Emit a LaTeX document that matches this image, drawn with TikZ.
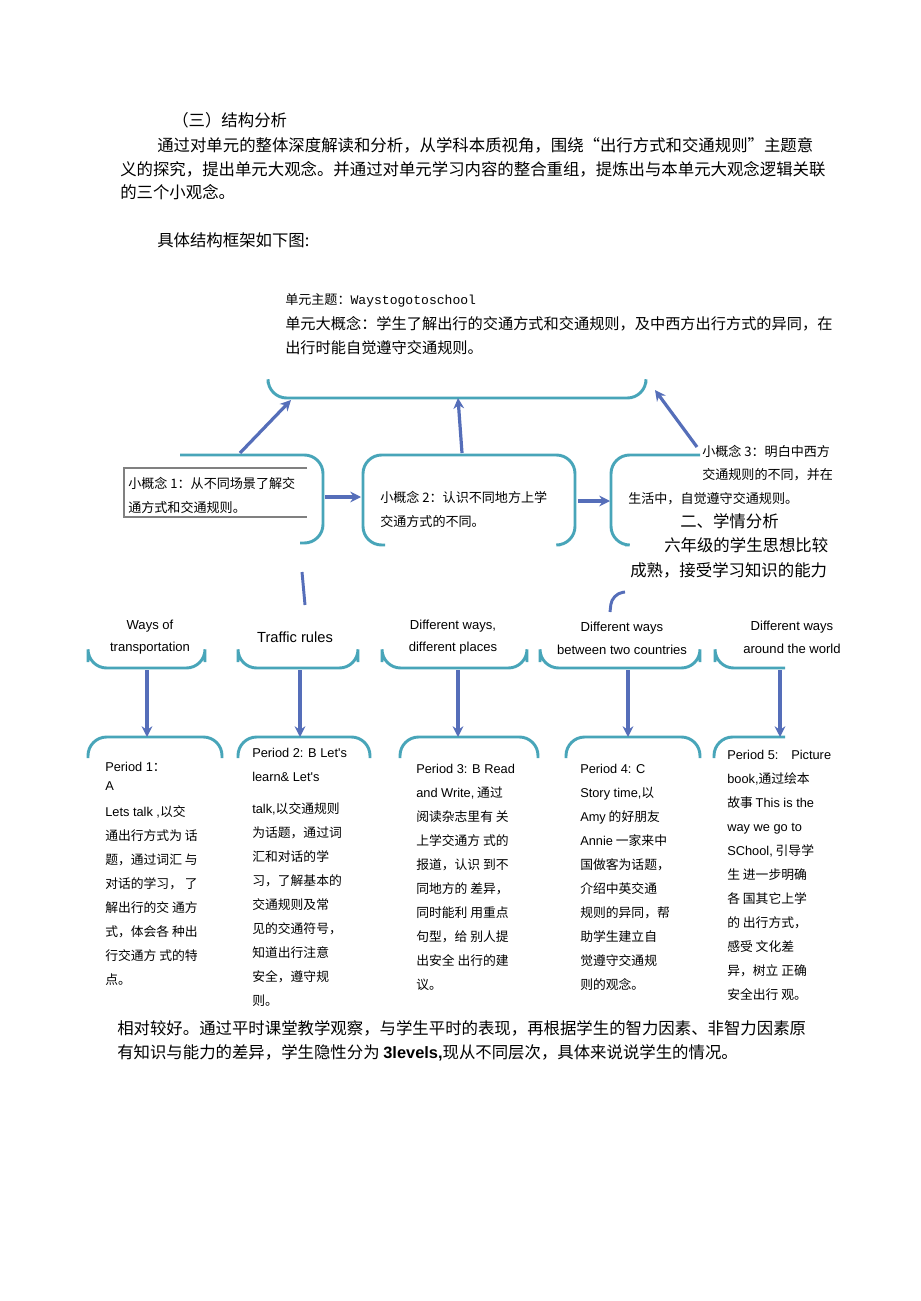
\documentclass[tikz,border=0pt]{standalone}
\usepackage{fontspec}
\setmainfont{Noto Sans CJK SC}
\newfontfamily\monof{Liberation Mono}
\newfontfamily\lat{Liberation Sans}
\usetikzlibrary{arrows.meta}
\definecolor{teal1}{RGB}{72,165,185}
\definecolor{arrb}{RGB}{85,110,185}
\begin{document}
\begin{tikzpicture}[x=0.75pt,y=-0.75pt,
  edge/.style={teal1,line width=2.2pt,rounded corners=14},
  arr/.style={arrb,line width=2.4pt,-{Stealth[length=8pt,width=8pt]}},
  body/.style={anchor=west,inner sep=0,font=\fontsize{12.3}{14}\selectfont},
  small/.style={anchor=west,inner sep=0,font=\fontsize{9.8}{12}\selectfont},
  col/.style={anchor=north west,inner sep=0,align=left,font=\fontsize{9.6}{18}\selectfont},
  head/.style={anchor=center,inner sep=0,align=center,font=\lat\fontsize{9.8}{17}\selectfont}]
\useasboundingbox[fill=white] (0,0) rectangle (920,1301);
% header text
\node[body] (h1) at (172,120) {（三）结构分析};
\node[body] (h2) at (157,145) {通过对单元的整体深度解读和分析，从学科本质视角，围绕“出行方式和交通规则”主题意};
\node[body] (h3) at (120,169) {义的探究，提出单元大观念。并通过对单元学习内容的整合重组，提炼出与本单元大观念逻辑关联};
\node[body] (h4) at (120,192) {的三个小观念。};
\node[body] (h5) at (157,240) {具体结构框架如下图:};
\node[small] (t1) at (285,300) {单元主题：{\monof Waystogotoschool}};
\node[body,font=\fontsize{11.4}{14}\selectfont] (t2) at (285,324) {单元大概念：学生了解出行的交通方式和交通规则，及中西方出行方式的异同，在};
\node[body,font=\fontsize{11.4}{14}\selectfont] (t3) at (285,348) {出行时能自觉遵守交通规则。};
% top box fragment
\draw[edge] (268,383) -- (268,398) -- (646,398) -- (646,383);
\coordinate (topA) at (291,400);
\coordinate (topB) at (458,398);
\coordinate (topC) at (655,390);
% middle boxes
\draw[edge] (180,455) -- (323,455) -- (323,543) -- (300,543);
\draw[edge] (385,545) -- (363,545) -- (363,455) -- (575,455) -- (575,545) -- (560,545);
\draw[edge] (625,545) -- (611,545) -- (611,455) -- (700,455);
\coordinate (b1t) at (240,453);
\coordinate (b2t) at (462,453);
\coordinate (b3t) at (697,447);
\draw[arr] (b1t) -- (topA);
\draw[arr] (b2t) -- (topB);
\draw[arr] (b3t) -- (topC);
\coordinate (b1r) at (325,497);
\coordinate (b2l) at (361,497);
\coordinate (b2r) at (578,501);
\coordinate (b3l) at (610,501);
\draw[arr] (b1r) -- (b2l);
\draw[arr] (b2r) -- (b3l);
% concept texts
\draw[gray,line width=0.8pt] (307,468) -- (124,468) -- (124,517) -- (307,517);
\node[small] (c1a) at (128,483) {小概念 1：从不同场景了解交};
\node[small] (c1b) at (128,507) {通方式和交通规则。};
\node[small] (c2a) at (380,497) {小概念 2：认识不同地方上学};
\node[small] (c2b) at (380,521) {交通方式的不同。};
\node[small] (c3a) at (702,451) {小概念 3：明白中西方};
\node[small] (c3b) at (702,475) {交通规则的不同，并在};
\node[small] (c3c) at (628,499) {生活中，自觉遵守交通规则。};
\node[body] (s1) at (680,521) {二、学情分析};
\node[body] (s2) at (664,545) {六年级的学生思想比较};
\node[body] (s3) at (630,570) {成熟，接受学习知识的能力};
% fragments
\draw[arrb,line width=2.2pt] (302,572) -- (305,605);
\draw[arrb,line width=2.2pt,rounded corners=8] (610,612) -- (612,594) -- (625,592);
% level headings
\node[head] (w1) at (150,637) {Ways of\\transportation};
\node[head,font=\lat\fontsize{11}{14}\selectfont] (w2) at (295,637) {Traffic rules};
\node[head] (w3) at (453,637) {Different ways,\\different places};
\node[head] (w4) at (622,638) {Different ways\\between two countries};
\node[head] (w5) at (792,637) {Different ways\\around the world};
% lower row box bottoms
\draw[edge] (88,662) -- (88,668) -- (205,668) -- (205,662);
\draw[edge] (238,662) -- (238,668) -- (358,668) -- (358,662);
\draw[edge] (382,662) -- (382,668) -- (527,668) -- (527,662);
\draw[edge] (540,662) -- (540,668) -- (700,668) -- (700,662);
\draw[edge] (715,662) -- (715,668) -- (785,668);
% period box tops
\draw[edge] (88,758) -- (88,737) -- (222,737) -- (222,758);
\draw[edge] (238,758) -- (238,737) -- (370,737) -- (370,758);
\draw[edge] (400,758) -- (400,737) -- (538,737) -- (538,758);
\draw[edge] (566,758) -- (566,737) -- (700,737) -- (700,758);
\draw[edge] (714,758) -- (714,737) -- (785,737);
\foreach \x/\n in {147/1,300/2,458/3,628/4,780/5}{
  \coordinate (u\n) at (\x,670);
  \coordinate (d\n) at (\x,737);
  \draw[arr] (u\n) -- (d\n);
}
% period texts
\node[col] (p1) at (105,762) {{\lat Period 1}：\\[-4pt]{\lat A}\\[2pt]{\lat Lets talk ,}以交\\通出行方式为 话\\题，通过词汇 与\\对话的学习， 了\\解出行的交 通方\\式，体会各 种出\\行交通方 式的特\\点。};
\node[col] (p2) at (252,748) {{\lat Period 2: B Let's}\\{\lat learn\& Let's}\\[6pt]{\lat talk,}以交通规则\\为话题，通过词\\汇和对话的学\\习，了解基本的\\交通规则及常\\见的交通符号，\\知道出行注意\\安全，遵守规\\则。};
\node[col] (p3) at (416,764) {{\lat Period 3: B Read}\\{\lat and Write,} 通过\\阅读杂志里有 关\\上学交通方 式的\\报道，认识 到不\\同地方的 差异，\\同时能利 用重点\\句型，给 别人提\\出安全 出行的建\\议。};
\node[col] (p4) at (580,764) {{\lat Period 4: C}\\{\lat Story time,}以\\{\lat Amy} 的好朋友\\{\lat Annie} 一家来中\\国做客为话题，\\介绍中英交通\\规则的异同，帮\\助学生建立自\\觉遵守交通规\\则的观念。};
\node[col] (p5) at (727,750) {{\lat Period 5:\quad Picture}\\{\lat book,}通过绘本\\故事 {\lat This is the}\\{\lat way we go to}\\{\lat SChool,} 引导学\\生 进一步明确\\各 国其它上学\\的 出行方式，\\感受 文化差\\异，树立 正确\\安全出行 观。};
% bottom paragraph
\node[body] (e1) at (117,1028) {相对较好。通过平时课堂教学观察，与学生平时的表现，再根据学生的智力因素、非智力因素原};
\node[body] (e2) at (117,1053) {有知识与能力的差异，学生隐性分为 {\lat\bfseries 3levels,}现从不同层次，具体来说说学生的情况。};
\end{tikzpicture}
\end{document}
